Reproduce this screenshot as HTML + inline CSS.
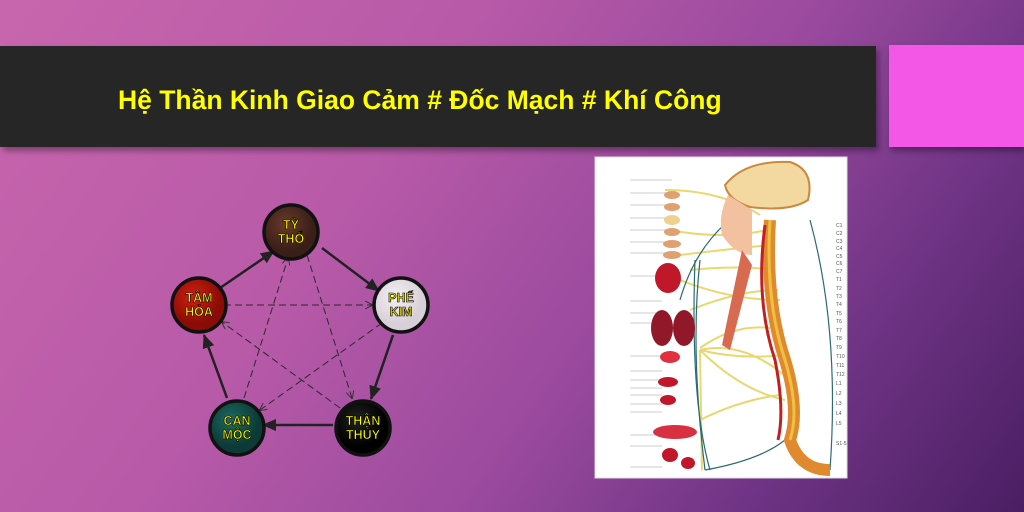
<!DOCTYPE html>
<html><head><meta charset="utf-8">
<style>
html,body{margin:0;padding:0}
body{width:1024px;height:512px;overflow:hidden;position:relative;
background:linear-gradient(125deg,#c866ad 0%,#b85aa8 35%,#9a4a9e 60%,#6e3384 80%,#4a1e62 100%);
font-family:"Liberation Sans",sans-serif}
.bar{position:absolute;left:0;top:46px;width:876px;height:101px;background:#262626;box-shadow:3px 4px 6px rgba(0,0,0,.35)}
.bar span{position:absolute;left:118px;top:39px;color:#ffff00;font-weight:bold;font-size:26.5px;white-space:nowrap}
.pink{position:absolute;left:889px;top:45px;width:135px;height:102px;background:#f257e6;box-shadow:2px 4px 6px rgba(0,0,0,.35)}
svg{position:absolute;left:0;top:0}
</style></head><body>
<div class="bar"><span>Hệ Thần Kinh Giao Cảm # Đốc Mạch # Khí Công</span></div>
<div class="pink"></div>
<svg width="1024" height="512" viewBox="0 0 1024 512">
<defs>
<marker id="a" markerWidth="14" markerHeight="12" refX="13" refY="6" orient="auto" markerUnits="userSpaceOnUse"><path d="M0,0 L14,6 L0,12 z" fill="#222"/></marker>
<marker id="b" markerWidth="8" markerHeight="8" refX="7" refY="4" orient="auto" markerUnits="userSpaceOnUse"><path d="M0,0 L8,4 L0,8" fill="none" stroke="#333" stroke-width="1"/></marker>
<radialGradient id="g1" cx="40%" cy="35%"><stop offset="0" stop-color="#6a3a2a"/><stop offset="1" stop-color="#3a1e18"/></radialGradient>
<radialGradient id="g2" cx="40%" cy="35%"><stop offset="0" stop-color="#d02010"/><stop offset="1" stop-color="#8a0c06"/></radialGradient>
<radialGradient id="g3" cx="40%" cy="35%"><stop offset="0" stop-color="#f4f0f4"/><stop offset="1" stop-color="#d8d0d8"/></radialGradient>
<radialGradient id="g4" cx="40%" cy="35%"><stop offset="0" stop-color="#1e6a62"/><stop offset="1" stop-color="#0c3a36"/></radialGradient>
<radialGradient id="g5" cx="40%" cy="35%"><stop offset="0" stop-color="#222"/><stop offset="1" stop-color="#000"/></radialGradient>
</defs>
<g stroke="#222" stroke-width="2.5" fill="none" marker-end="url(#a)">
<line x1="220" y1="288" x2="274" y2="251"/>
<line x1="322" y1="248" x2="379" y2="291"/>
<line x1="393" y1="335" x2="371" y2="399"/>
<line x1="333" y1="425" x2="263" y2="425"/>
<line x1="227" y1="398" x2="204" y2="335"/>
</g>
<g stroke="#2a2a2a" stroke-width="1" fill="none" stroke-dasharray="7,4" marker-end="url(#b)">
<line x1="224" y1="305" x2="372" y2="305"/>
<line x1="307" y1="255" x2="352" y2="398"/>
<line x1="340" y1="408" x2="222" y2="322"/>
<line x1="244" y1="398" x2="288" y2="258"/>
<line x1="382" y1="323" x2="260" y2="410"/>
</g>
<g stroke="#111" stroke-width="3.5">
<circle cx="291" cy="232" r="27" fill="url(#g1)"/>
<circle cx="199" cy="305" r="27" fill="url(#g2)"/>
<circle cx="401" cy="305" r="27" fill="url(#g3)"/>
<circle cx="237" cy="428" r="27" fill="url(#g4)"/>
<circle cx="363" cy="428" r="27" fill="url(#g5)"/>
</g>
<g fill="#ffff00" font-family="Liberation Sans,sans-serif" font-weight="bold" font-size="12.5" text-anchor="middle" stroke="#000" stroke-width=".6">
<text x="291" y="229">TỲ</text><text x="291" y="243">THỔ</text>
<text x="199" y="302">TÂM</text><text x="199" y="316">HỎA</text>
<text x="401" y="302" fill="#e8e000">PHẾ</text><text x="401" y="316" fill="#e8e000">KIM</text>
<text x="237" y="425">CAN</text><text x="237" y="439">MỘC</text>
<text x="363" y="425">THẬN</text><text x="363" y="439">THỦY</text>
</g>
<rect x="595" y="157" width="252" height="321" fill="#fff" stroke="#ddd"/>
<g stroke="#999" stroke-width=".6">
<line x1="630" y1="180" x2="672" y2="180"/><line x1="630" y1="193" x2="672" y2="193"/><line x1="630" y1="205" x2="668" y2="205"/><line x1="630" y1="218" x2="668" y2="218"/><line x1="630" y1="230" x2="668" y2="230"/><line x1="630" y1="242" x2="668" y2="242"/><line x1="630" y1="253" x2="668" y2="253"/><line x1="630" y1="276" x2="662" y2="276"/><line x1="630" y1="301" x2="662" y2="301"/><line x1="630" y1="313" x2="662" y2="313"/><line x1="630" y1="323" x2="662" y2="323"/><line x1="630" y1="356" x2="662" y2="356"/><line x1="630" y1="371" x2="662" y2="371"/><line x1="630" y1="380" x2="662" y2="380"/><line x1="630" y1="388" x2="662" y2="388"/><line x1="630" y1="395" x2="662" y2="395"/><line x1="630" y1="404" x2="662" y2="404"/><line x1="630" y1="412" x2="662" y2="412"/><line x1="630" y1="435" x2="662" y2="435"/><line x1="630" y1="446" x2="662" y2="446"/><line x1="630" y1="467" x2="662" y2="467"/>
</g>
<g stroke="#e8d870" stroke-width="2" fill="none">
<path d="M700 348 Q740 320 780 330"/><path d="M700 350 Q740 390 785 400"/><path d="M700 350 Q740 360 785 355"/>
<path d="M680 280 Q730 300 780 300"/><path d="M690 310 Q740 290 778 290"/><path d="M700 420 Q740 400 780 395"/>
<path d="M665 190 Q720 190 760 215"/><path d="M670 230 Q720 240 768 230"/><path d="M680 255 Q720 250 770 245"/>
<path d="M700 350 L702 470"/><path d="M690 270 Q740 265 775 270"/><path d="M700 350 Q745 340 790 380"/>
</g>
<g stroke="#2a6a70" stroke-width="1.2" fill="none">
<path d="M700 260 Q690 350 705 470"/><path d="M760 200 Q700 230 680 300"/><path d="M705 470 Q760 460 785 440"/>
<path d="M810 220 Q840 330 830 470"/><path d="M710 470 Q690 400 695 260"/>
</g>
<path d="M725 185 Q745 160 790 162 Q815 170 808 200 Q790 212 750 207 Q728 200 725 185z" fill="#f3d9a0" stroke="#c98a40" stroke-width="2"/>
<path d="M728 195 Q718 215 722 235 Q735 255 752 255 L752 210z" fill="#f3c0a0"/>
<path d="M742 250 L752 265 L730 350 L722 345z" fill="#d86a50"/>
<path d="M770 220 Q765 300 785 360 Q800 410 790 440 Q800 470 830 470" fill="none" stroke="#e08a30" stroke-width="12"/>
<path d="M770 220 Q765 300 785 360 Q800 410 790 440" fill="none" stroke="#f0c040" stroke-width="3"/>
<path d="M765 225 Q755 300 775 360 Q785 410 778 440" fill="none" stroke="#c02020" stroke-width="3"/>
<g fill="#c0182a">
<ellipse cx="668" cy="278" rx="13" ry="15"/>
<ellipse cx="662" cy="328" rx="11" ry="18" fill="#901828"/><ellipse cx="684" cy="328" rx="11" ry="18" fill="#901828"/>
<ellipse cx="670" cy="357" rx="10" ry="6" fill="#e03040"/>
<ellipse cx="668" cy="382" rx="10" ry="5"/><ellipse cx="668" cy="400" rx="8" ry="5"/>
<ellipse cx="675" cy="432" rx="22" ry="7" fill="#d83040"/>
<ellipse cx="670" cy="455" rx="8" ry="7"/><ellipse cx="688" cy="463" rx="7" ry="6"/>
</g>
<g fill="#e0a070"><ellipse cx="672" cy="195" rx="8" ry="4"/><ellipse cx="672" cy="207" rx="8" ry="4"/><ellipse cx="672" cy="220" rx="8" ry="5" fill="#f0d090"/><ellipse cx="672" cy="232" rx="8" ry="4"/><ellipse cx="672" cy="244" rx="9" ry="4"/><ellipse cx="672" cy="255" rx="9" ry="4"/></g>
<g fill="#555" font-size="5" font-family="Liberation Sans,sans-serif">
<text x="836" y="227">C1</text><text x="836" y="235">C2</text><text x="836" y="243">C3</text><text x="836" y="250">C4</text><text x="836" y="258">C5</text><text x="836" y="265">C6</text><text x="836" y="273">C7</text><text x="836" y="281">T1</text><text x="836" y="290">T2</text><text x="836" y="298">T3</text><text x="836" y="306">T4</text><text x="836" y="315">T5</text><text x="836" y="323">T6</text><text x="836" y="332">T7</text><text x="836" y="340">T8</text><text x="836" y="349">T9</text><text x="836" y="358">T10</text><text x="836" y="367">T11</text><text x="836" y="376">T12</text><text x="836" y="385">L1</text><text x="836" y="395">L2</text><text x="836" y="405">L3</text><text x="836" y="415">L4</text><text x="836" y="425">L5</text><text x="836" y="445">S1-5</text>
</g>
</svg>
</body></html>
